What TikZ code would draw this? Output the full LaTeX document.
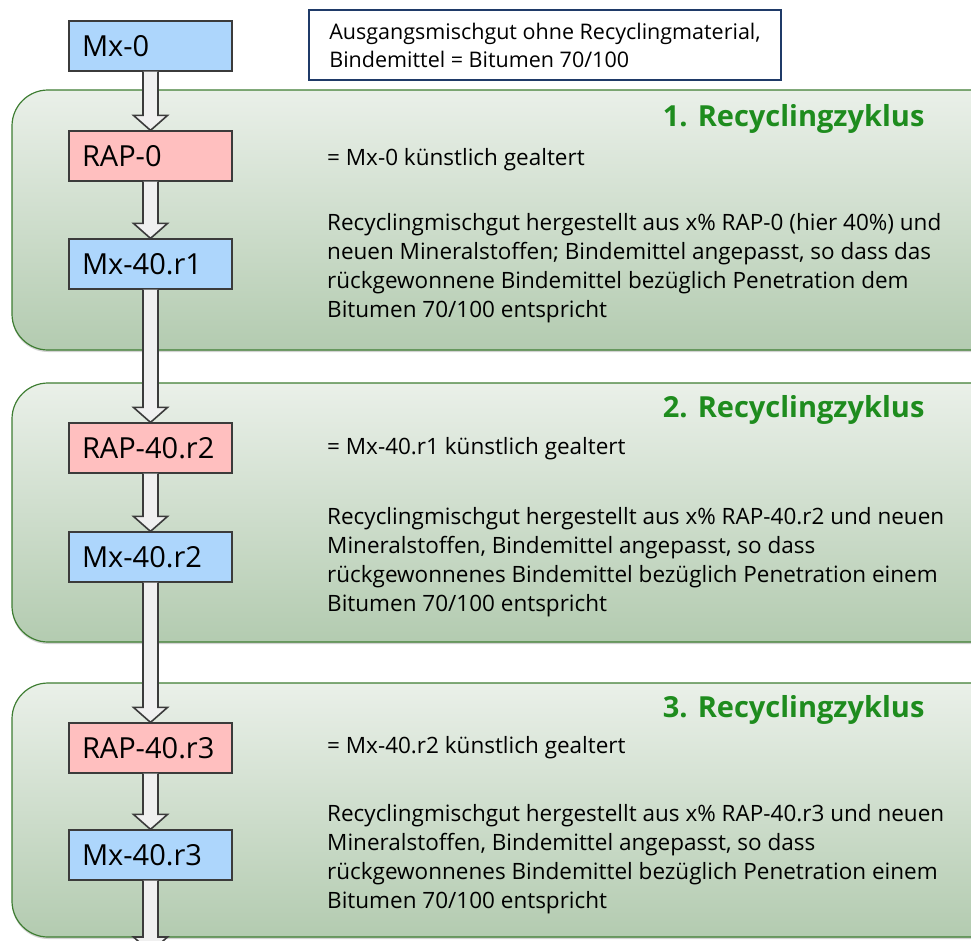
\documentclass[tikz,border=0pt]{standalone}
\usepackage{fontspec}
\setmainfont{Open Sans}
\usetikzlibrary{calc,shadows}
\definecolor{mxblue}{HTML}{ADD6FC}
\definecolor{rappink}{HTML}{FFBFBF}
\definecolor{boxline}{HTML}{3B3B3B}
\definecolor{cycleline}{HTML}{3E7D32}
\definecolor{cycletop}{HTML}{EAF0E9}
\definecolor{cyclebottom}{HTML}{B3CBB0}
\definecolor{cycletitle}{HTML}{1E8C1E}
\definecolor{notenavy}{HTML}{1F3A68}
\definecolor{arrowfill}{HTML}{F0F0F0}

\tikzset{
  matbox/.style={draw=boxline, line width=1.2pt, minimum width=163pt, minimum height=50pt,
    inner xsep=13pt, inner ysep=0pt, text width=137pt, align=left,
    font=\fontsize{29}{32}\selectfont},
  mxbox/.style={matbox, fill=mxblue},
  rapbox/.style={matbox, fill=rappink},
  cyclepanel/.style={draw=cycleline, line width=1.2pt, rounded corners=36pt,
    top color=cycletop, bottom color=cyclebottom,
    drop shadow={opacity=0.35, shadow xshift=0pt, shadow yshift=-2pt}},
  cycletitle/.style={anchor=east, text=cycletitle, font=\fontsize{29}{34}\selectfont\bfseries},
  bodytext/.style={inner sep=0pt, align=left, font=\fontsize{22.5}{29}\selectfont},
  notebox/.style={draw=notenavy, line width=2pt, minimum width=472pt, minimum height=70pt,
    inner xsep=10pt, align=left, font=\fontsize{21.5}{28}\selectfont}
}
\tikzset{flowarrow/.style={fill=arrowfill, draw=boxline, line width=1.6pt, line join=miter}}

\begin{document}
\begin{tikzpicture}[x=1pt, y=-1pt]
  \useasboundingbox (0,0) rectangle (971,940);
  \clip (0,0) rectangle (971,940);
  % Recycling cycles
  \foreach \t/\b in {90/350, 383/642, 683/937} {
    \path[cyclepanel] (12,\t) rectangle (1010,\b);
  }
  \node[cycletitle] (title1) at (928,119) {1. Recyclingzyklus};
  \node[cycletitle] (title2) at (928,410) {2. Recyclingzyklus};
  \node[cycletitle] (title3) at (928,710) {3. Recyclingzyklus};
  % Starting mix
  \node[notebox] (note) at (545,45)
    {Ausgangsmischgut ohne Recyclingmaterial,\\Bindemittel = Bitumen 70/100};
  % Materials
  \node[mxbox]  (mx0)  at (150.5,46)  {Mx-0};
  \node[rapbox] (rap0) at (150.5,156) {RAP-0};
  \node[mxbox]  (mx1)  at (150.5,264) {Mx-40.r1};
  \node[rapbox] (rap2) at (150.5,448) {RAP-40.r2};
  \node[mxbox]  (mx2)  at (150.5,557) {Mx-40.r2};
  \node[rapbox] (rap3) at (150.5,748) {RAP-40.r3};
  \node[mxbox]  (mx3)  at (150.5,855) {Mx-40.r3};
  \coordinate (next) at (150.5,952);
  % Block arrows
  \foreach \a/\b in {mx0/rap0, rap0/mx1, mx1/rap2, rap2/mx2, mx2/rap3, rap3/mx3, mx3/next} {
    \filldraw[flowarrow] ($(\a.270)+(-7.5,0)$) -- ($(\b.90)+(-7.5,-15)$) -- ($(\b.90)+(-17,-15)$)
      -- (\b.90) -- ($(\b.90)+(17,-15)$) -- ($(\b.90)+(7.5,-15)$) -- ($(\a.270)+(7.5,0)$);
  }
  % Explanations
  \node[bodytext, anchor=west] (aged1) at (327,160) {= Mx-0 künstlich gealtert};
  \node[bodytext, anchor=base west] (mix1) at (327,317)
    {Recyclingmischgut hergestellt aus x\% RAP-0 (hier 40\%) und\\
     neuen Mineralstoffen; Bindemittel angepasst, so dass das\\
     rückgewonnene Bindemittel bezüglich Penetration dem\\
     Bitumen 70/100 entspricht};
  \node[bodytext, anchor=west] (aged2) at (327,449) {= Mx-40.r1 künstlich gealtert};
  \node[bodytext, anchor=base west] (mix2) at (327,611)
    {Recyclingmischgut hergestellt aus x\% RAP-40.r2 und neuen\\
     Mineralstoffen, Bindemittel angepasst, so dass\\
     rückgewonnenes Bindemittel bezüglich Penetration einem\\
     Bitumen 70/100 entspricht};
  \node[bodytext, anchor=west] (aged3) at (327,748) {= Mx-40.r2 künstlich gealtert};
  \node[bodytext, anchor=base west] (mix3) at (327,908)
    {Recyclingmischgut hergestellt aus x\% RAP-40.r3 und neuen\\
     Mineralstoffen, Bindemittel angepasst, so dass\\
     rückgewonnenes Bindemittel bezüglich Penetration einem\\
     Bitumen 70/100 entspricht};
\end{tikzpicture}
\end{document}
